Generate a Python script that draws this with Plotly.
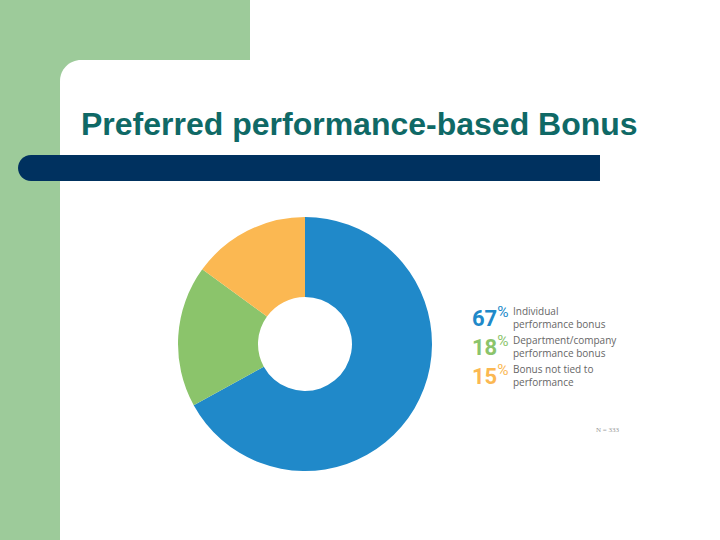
import plotly.graph_objects as go

# chart data
categories = ["Individual performance bonus",
              "Department/company performance bonus",
              "Bonus not tied to performance"]
shares = [67, 18, 15]
colors = ["#2089C9", "#8BC46B", "#FBB852"]
legend_lines = [["Individual", "performance bonus"],
                ["Department/company", "performance bonus"],
                ["Bonus not tied to", "performance"]]
title_text = "Preferred performance-based Bonus"
sample_note = "N = 333"

W, H = 720, 540


def fx(x):
    return x / W


def fy(y):
    return 1 - y / H


def path(points):
    # points in pixel coords, "M"/"L"/"C" commands
    out = []
    for cmd, *pts in points:
        out.append(cmd + " " + " ".join(f"{fx(a):.5f},{fy(b):.5f}" for a, b in pts))
    return " ".join(out) + " Z"


fig = go.Figure()

fig.add_trace(go.Pie(
    labels=categories, values=shares,
    marker=dict(colors=colors, line=dict(width=0)),
    hole=0.37, sort=False, direction="clockwise", rotation=0,
    textinfo="none", showlegend=False, hoverinfo="label+percent",
    domain=dict(x=[fx(178), fx(432)], y=[fy(471), fy(217)]),
))

green = "#9DCB9A"
k = 0.5523
r = 21
bar_r = 13
shapes = [
    dict(type="rect", xref="paper", yref="paper", x0=0, x1=fx(250), y0=fy(100), y1=1,
         fillcolor=green, line_width=0, layer="below"),
    dict(type="rect", xref="paper", yref="paper", x0=0, x1=fx(60), y0=0, y1=1,
         fillcolor=green, line_width=0, layer="below"),
    # white panel with rounded top-left corner
    dict(type="path", xref="paper", yref="paper", layer="below", fillcolor="white", line_width=0,
         path=path([("M", (60, 60 + r)),
                    ("C", (60, 60 + r - k * r), (60 + r - k * r, 60), (60 + r, 60)),
                    ("L", (W, 60)), ("L", (W, H)), ("L", (60, H))])),
    # navy bar under the title
    dict(type="path", xref="paper", yref="paper", layer="below", fillcolor="#00315F", line_width=0,
         path=path([("M", (18 + bar_r, 155)), ("L", (600, 155)), ("L", (600, 181)),
                    ("L", (18 + bar_r, 181)),
                    ("C", (18 + bar_r - k * bar_r, 181), (18, 168 + k * bar_r), (18, 168)),
                    ("C", (18, 168 - k * bar_r), (18 + bar_r - k * bar_r, 155), (18 + bar_r, 155))])),
]

annotations = [
    dict(text=f"<b>{title_text}</b>", x=fx(79), y=fy(124), xref="paper", yref="paper",
         xanchor="left", yanchor="middle", showarrow=False,
         font=dict(family="Liberation Sans, Arial", size=32, color="#0F6966")),
    dict(text=sample_note, x=fx(608), y=fy(430), xref="paper", yref="paper",
         xanchor="center", yanchor="middle", showarrow=False,
         font=dict(family="Liberation Serif", size=7, color="#999999")),
]

row_y = [317, 346, 375]
for val, col, lines, y in zip(shares, colors, legend_lines, row_y):
    annotations.append(dict(
        text=f"<b>{val}</b><sup>%</sup>", x=fx(470), y=fy(y), xref="paper", yref="paper",
        xanchor="left", yanchor="middle", showarrow=False,
        font=dict(family="Roboto", size=22, color=col)))
    annotations.append(dict(
        text="<br>".join(lines), x=fx(511), y=fy(y), xref="paper", yref="paper",
        xanchor="left", yanchor="middle", align="left", showarrow=False,
        font=dict(family="Open Sans", size=10, color="#666666")))

fig.update_layout(
    width=W, height=H, margin=dict(l=0, r=0, t=0, b=0),
    paper_bgcolor="white", plot_bgcolor="white",
    shapes=shapes, annotations=annotations,
)

# drop the page margin so the figure sits at the window's corner
fig.write_html("out.html", config={"displayModeBar": False},
               post_script="document.body.style.margin='0';")
